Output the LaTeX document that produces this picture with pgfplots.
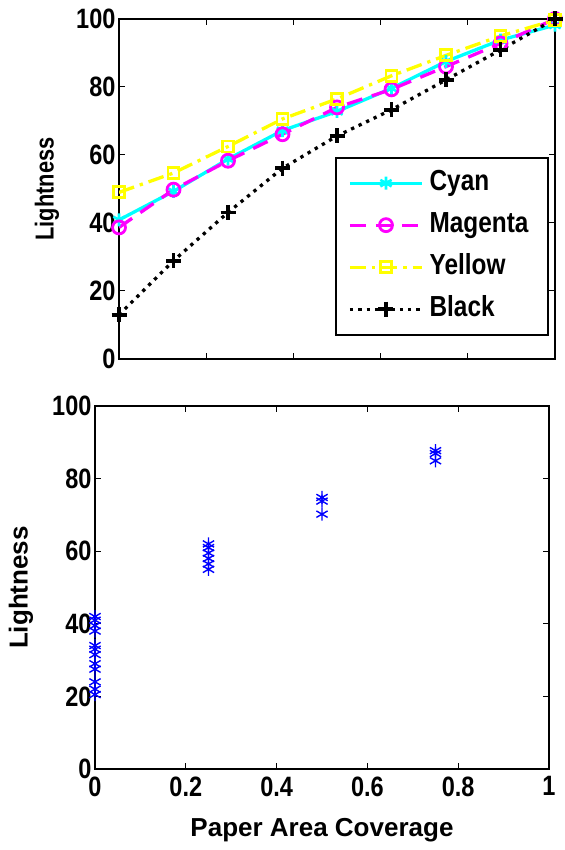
\documentclass[border=0pt]{standalone}
\usepackage{fontspec}
\setmainfont{Liberation Sans}
\newfontfamily\tickf{Liberation Sans}[FakeStretch=0.84]
\usepackage{pgfplots}
\pgfplotsset{compat=1.18}
\definecolor{mcyan}{RGB}{0,255,255}
\definecolor{mmag}{RGB}{255,0,255}
\definecolor{myel}{RGB}{255,255,0}
\definecolor{mblue}{RGB}{0,0,255}
\begin{document}
\begin{tikzpicture}
\useasboundingbox (0pt,0pt) rectangle (564pt,850pt);
\pgfplotsset{
  every axis/.append style={
    scale only axis,
    axis line style={line width=1.3pt},
    every tick/.style={black,line width=1pt},
    tick align=inside,
    major tick length=6pt,
    /pgf/number format/assume math mode=true,
    tick label style={font=\tickf\bfseries\fontsize{28}{28}\selectfont},
    xtick={0,0.2,0.4,0.6,0.8,1},
    ytick={0,20,40,60,80,100},
    xmin=0,xmax=1,ymin=0,ymax=100,
  }
}
\begin{axis}[
  at={(119pt,491pt)}, anchor=south west,
  width=436pt, height=340pt,
  xticklabels={},
  ylabel={Lightness},
  ylabel style={font=\tickf\bfseries\fontsize{26}{26}\selectfont,at={(axis description cs:-0.165,0.5)},anchor=center},
  legend style={at={(0.498,0.071)},anchor=south west,draw=none,fill=none,
    font=\tickf\bfseries\fontsize{29}{29}\selectfont,row sep=15pt,inner xsep=12pt,inner ysep=12pt,
    nodes={inner sep=0pt,text height=21pt,text depth=6pt},
    column sep=6pt,
    column 2/.style={nodes={text width=120pt,align=left}},
    cells={anchor=west}},
  legend image code/.code={\draw[mark repeat=2,mark phase=2,line width=3.3pt] plot coordinates {(0pt,0pt) (36pt,0pt) (72pt,0pt)};},
]
\addplot[mcyan,line width=3.3pt,mark=asterisk,mark size=6.5pt,mark options={solid,line width=2.6pt}] coordinates {
(0,40.9)(0.125,49.3)(0.25,58.8)(0.375,67.2)(0.5,72.8)(0.625,79.6)(0.75,87.5)(0.875,93.8)(1,98.2)};
\addlegendentry{Cyan}
\addplot[mmag,line width=3.3pt,dash pattern=on 16pt off 10pt,mark=o,mark size=6.5pt,mark options={solid,line width=2.8pt}] coordinates {
(0,38.7)(0.125,49.8)(0.25,58.3)(0.375,66.1)(0.5,74.0)(0.625,79.3)(0.75,86.0)(0.875,92.8)(1,100)};
\addlegendentry{Magenta}
\addplot[myel,line width=3.3pt,dash pattern=on 16pt off 6pt on 3.3pt off 6pt,mark=square,mark size=5.5pt,mark options={solid,line width=2.8pt}] coordinates {
(0,49.0)(0.125,54.7)(0.25,62.5)(0.375,70.6)(0.5,76.5)(0.625,83.3)(0.75,89.3)(0.875,95.0)(1,99.7)};
\addlegendentry{Yellow}
\addplot[black,line width=3.3pt,dash pattern=on 3.3pt off 5pt,mark=+,mark size=7.5pt,mark options={solid,line width=3.6pt}] coordinates {
(0,13.0)(0.125,28.9)(0.25,43.1)(0.375,56.1)(0.5,65.6)(0.625,73.3)(0.75,82.1)(0.875,90.9)(1,100)};
\addlegendentry{Black}
\end{axis}
\draw[line width=1.2pt] (336pt,515pt) rectangle (548pt,692pt);
\begin{axis}[
  at={(95pt,81pt)}, anchor=south west,
  width=454pt, height=363pt,
  xticklabels={0,0.2,0.4,0.6,0.8,1},
  ylabel={Lightness},
  xlabel={Paper Area Coverage},
  label style={font=\bfseries\fontsize{26}{26}\selectfont},
  ylabel style={at={(axis description cs:-0.163,0.5)},anchor=center},
  xlabel style={at={(axis description cs:0.5,-0.168)},anchor=center},
  xticklabel style={yshift=-4pt},
  clip=false,
]
\addplot[only marks,mblue,mark=asterisk,mark size=6.5pt,line width=1.4pt] coordinates {
(0,42)(0,41)(0,39.5)(0,38)(0,34)(0,33)(0,31.5)(0,29)(0,27.5)(0,24)(0,22)(0,20.5)
(0.25,62)(0.25,61)(0.25,59.5)(0.25,58)(0.25,56.5)(0.25,55)
(0.5,74.8)(0.5,73.8)(0.5,70.2)
(0.75,87.7)(0.75,86.9)(0.75,84.9)};
\end{axis}
\end{tikzpicture}
\end{document}
